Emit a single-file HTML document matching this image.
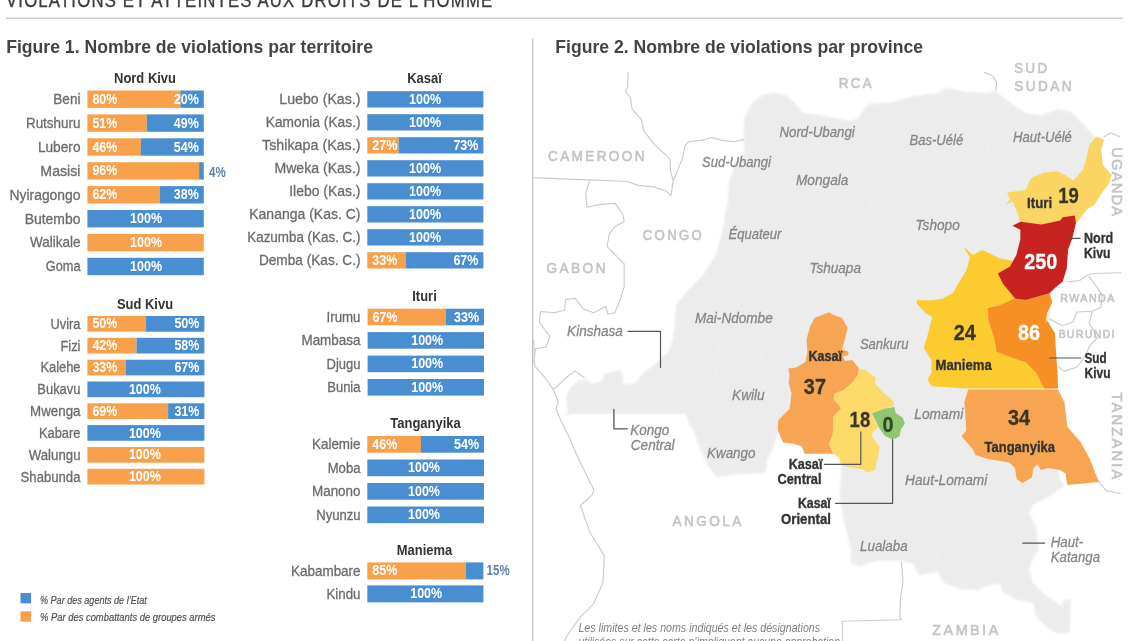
<!DOCTYPE html>
<html lang="fr"><head><meta charset="utf-8"><title>Violations et atteintes aux droits de l'homme</title>
<style>
html,body{margin:0;padding:0;background:#fff;overflow:hidden}
svg{display:block;will-change:transform;font-family:"Liberation Sans",sans-serif}
text{white-space:pre}
</style></head><body>
<svg width="1140" height="641" viewBox="0 0 1140 641">
<defs><filter id="soft" x="-2%" y="-2%" width="104%" height="104%"><feGaussianBlur stdDeviation="0.8"/></filter></defs>
<rect x="0" y="0" width="1140" height="641" fill="#fff"/>
<text transform="translate(6.0,6.8) scale(0.838,1)" font-size="20" letter-spacing="1.4" fill="#3c3c3c" stroke="#3c3c3c" stroke-width="0.35">VIOLATIONS ET ATTEINTES AUX DROITS DE L’HOMME</text>
<rect x="6" y="17.6" width="1117" height="1.1" fill="#bdbdbd"/>
<rect x="532" y="38.5" width="1.2" height="603" fill="#c0c0c0"/>
<text transform="translate(6.2,53.3) scale(1.006,1)" font-size="17.5" font-weight="700" fill="#444">Figure 1. Nombre de violations par territoire</text>
<text transform="translate(555.3,53.3) scale(1.006,1)" font-size="17.5" font-weight="700" fill="#444">Figure 2. Nombre de violations par province</text>
<text transform="translate(145.0,83.0) scale(0.865,1)" font-size="15" font-weight="700" fill="#333" text-anchor="middle">Nord Kivu</text>
<text transform="translate(80.5,104.0) scale(0.895,1)" font-size="15.2" fill="#6b6b6b" text-anchor="end" stroke="#6b6b6b" stroke-width="0.3">Beni</text>
<rect x="87.4" y="90.5" width="93.1" height="17.4" fill="#F9A04D"/>
<rect x="180.5" y="90.5" width="23.3" height="17.4" fill="#4A8ED2"/>
<text transform="translate(92.4,103.7) scale(0.857,1)" font-size="14.6" font-weight="700" fill="#fff">80%</text>
<text transform="translate(198.8,103.7) scale(0.857,1)" font-size="14.6" font-weight="700" fill="#fff" text-anchor="end">20%</text>
<text transform="translate(80.5,127.9) scale(0.886,1)" font-size="15.2" fill="#6b6b6b" text-anchor="end" stroke="#6b6b6b" stroke-width="0.3">Rutshuru</text>
<rect x="87.4" y="114.4" width="59.4" height="17.4" fill="#F9A04D"/>
<rect x="146.8" y="114.4" width="57.0" height="17.4" fill="#4A8ED2"/>
<text transform="translate(92.4,127.6) scale(0.857,1)" font-size="14.6" font-weight="700" fill="#fff">51%</text>
<text transform="translate(198.8,127.6) scale(0.857,1)" font-size="14.6" font-weight="700" fill="#fff" text-anchor="end">49%</text>
<text transform="translate(80.5,151.8) scale(0.901,1)" font-size="15.2" fill="#6b6b6b" text-anchor="end" stroke="#6b6b6b" stroke-width="0.3">Lubero</text>
<rect x="87.4" y="138.3" width="53.5" height="17.4" fill="#F9A04D"/>
<rect x="140.9" y="138.3" width="62.9" height="17.4" fill="#4A8ED2"/>
<text transform="translate(92.4,151.5) scale(0.857,1)" font-size="14.6" font-weight="700" fill="#fff">46%</text>
<text transform="translate(198.8,151.5) scale(0.857,1)" font-size="14.6" font-weight="700" fill="#fff" text-anchor="end">54%</text>
<text transform="translate(80.5,175.7) scale(0.932,1)" font-size="15.2" fill="#6b6b6b" text-anchor="end" stroke="#6b6b6b" stroke-width="0.3">Masisi</text>
<rect x="87.4" y="162.2" width="111.7" height="17.4" fill="#F9A04D"/>
<rect x="199.1" y="162.2" width="4.7" height="17.4" fill="#4A8ED2"/>
<text transform="translate(92.4,175.4) scale(0.857,1)" font-size="14.6" font-weight="700" fill="#fff">96%</text>
<text transform="translate(209.0,176.5) scale(0.788,1)" font-size="14.6" font-weight="700" fill="#5a82ab">4%</text>
<text transform="translate(80.5,199.6) scale(0.914,1)" font-size="15.2" fill="#6b6b6b" text-anchor="end" stroke="#6b6b6b" stroke-width="0.3">Nyiragongo</text>
<rect x="87.4" y="186.1" width="72.2" height="17.4" fill="#F9A04D"/>
<rect x="159.6" y="186.1" width="44.2" height="17.4" fill="#4A8ED2"/>
<text transform="translate(92.4,199.3) scale(0.857,1)" font-size="14.6" font-weight="700" fill="#fff">62%</text>
<text transform="translate(198.8,199.3) scale(0.857,1)" font-size="14.6" font-weight="700" fill="#fff" text-anchor="end">38%</text>
<text transform="translate(80.5,223.5) scale(0.919,1)" font-size="15.2" fill="#6b6b6b" text-anchor="end" stroke="#6b6b6b" stroke-width="0.3">Butembo</text>
<rect x="87.4" y="210.0" width="116.4" height="17.4" fill="#4A8ED2"/>
<text transform="translate(146.1,223.2) scale(0.857,1)" font-size="14.6" font-weight="700" fill="#fff" text-anchor="middle">100%</text>
<text transform="translate(80.5,247.4) scale(0.887,1)" font-size="15.2" fill="#6b6b6b" text-anchor="end" stroke="#6b6b6b" stroke-width="0.3">Walikale</text>
<rect x="87.4" y="233.9" width="116.4" height="17.4" fill="#F9A04D"/>
<text transform="translate(146.1,247.1) scale(0.857,1)" font-size="14.6" font-weight="700" fill="#fff" text-anchor="middle">100%</text>
<text transform="translate(80.5,271.3) scale(0.841,1)" font-size="15.2" fill="#6b6b6b" text-anchor="end" stroke="#6b6b6b" stroke-width="0.3">Goma</text>
<rect x="87.4" y="257.8" width="116.4" height="17.4" fill="#4A8ED2"/>
<text transform="translate(146.1,271.0) scale(0.857,1)" font-size="14.6" font-weight="700" fill="#fff" text-anchor="middle">100%</text>
<text transform="translate(145.0,308.6) scale(0.865,1)" font-size="15" font-weight="700" fill="#333" text-anchor="middle">Sud Kivu</text>
<text transform="translate(80.5,328.7) scale(0.846,1)" font-size="15.2" fill="#6b6b6b" text-anchor="end" stroke="#6b6b6b" stroke-width="0.3">Uvira</text>
<rect x="87.4" y="316.0" width="58.5" height="15.7" fill="#F9A04D"/>
<rect x="145.9" y="316.0" width="58.5" height="15.7" fill="#4A8ED2"/>
<text transform="translate(92.4,328.4) scale(0.857,1)" font-size="14.6" font-weight="700" fill="#fff">50%</text>
<text transform="translate(199.4,328.4) scale(0.857,1)" font-size="14.6" font-weight="700" fill="#fff" text-anchor="end">50%</text>
<text transform="translate(80.5,350.5) scale(0.851,1)" font-size="15.2" fill="#6b6b6b" text-anchor="end" stroke="#6b6b6b" stroke-width="0.3">Fizi</text>
<rect x="87.4" y="337.8" width="49.1" height="15.7" fill="#F9A04D"/>
<rect x="136.5" y="337.8" width="67.9" height="15.7" fill="#4A8ED2"/>
<text transform="translate(92.4,350.2) scale(0.857,1)" font-size="14.6" font-weight="700" fill="#fff">42%</text>
<text transform="translate(199.4,350.2) scale(0.857,1)" font-size="14.6" font-weight="700" fill="#fff" text-anchor="end">58%</text>
<text transform="translate(80.5,372.3) scale(0.848,1)" font-size="15.2" fill="#6b6b6b" text-anchor="end" stroke="#6b6b6b" stroke-width="0.3">Kalehe</text>
<rect x="87.4" y="359.7" width="38.6" height="15.7" fill="#F9A04D"/>
<rect x="126.0" y="359.7" width="78.4" height="15.7" fill="#4A8ED2"/>
<text transform="translate(92.4,372.0) scale(0.857,1)" font-size="14.6" font-weight="700" fill="#fff">33%</text>
<text transform="translate(199.4,372.0) scale(0.857,1)" font-size="14.6" font-weight="700" fill="#fff" text-anchor="end">67%</text>
<text transform="translate(80.5,394.1) scale(0.853,1)" font-size="15.2" fill="#6b6b6b" text-anchor="end" stroke="#6b6b6b" stroke-width="0.3">Bukavu</text>
<rect x="87.4" y="381.5" width="117.0" height="15.7" fill="#4A8ED2"/>
<text transform="translate(144.9,393.9) scale(0.857,1)" font-size="14.6" font-weight="700" fill="#fff" text-anchor="middle">100%</text>
<text transform="translate(80.5,416.0) scale(0.878,1)" font-size="15.2" fill="#6b6b6b" text-anchor="end" stroke="#6b6b6b" stroke-width="0.3">Mwenga</text>
<rect x="87.4" y="403.3" width="80.7" height="15.7" fill="#F9A04D"/>
<rect x="168.1" y="403.3" width="36.3" height="15.7" fill="#4A8ED2"/>
<text transform="translate(92.4,415.7) scale(0.857,1)" font-size="14.6" font-weight="700" fill="#fff">69%</text>
<text transform="translate(199.4,415.7) scale(0.857,1)" font-size="14.6" font-weight="700" fill="#fff" text-anchor="end">31%</text>
<text transform="translate(80.5,437.8) scale(0.849,1)" font-size="15.2" fill="#6b6b6b" text-anchor="end" stroke="#6b6b6b" stroke-width="0.3">Kabare</text>
<rect x="87.4" y="425.1" width="117.0" height="15.7" fill="#4A8ED2"/>
<text transform="translate(144.9,437.5) scale(0.857,1)" font-size="14.6" font-weight="700" fill="#fff" text-anchor="middle">100%</text>
<text transform="translate(80.5,459.6) scale(0.871,1)" font-size="15.2" fill="#6b6b6b" text-anchor="end" stroke="#6b6b6b" stroke-width="0.3">Walungu</text>
<rect x="87.4" y="447.0" width="117.0" height="15.7" fill="#F9A04D"/>
<text transform="translate(144.9,459.4) scale(0.857,1)" font-size="14.6" font-weight="700" fill="#fff" text-anchor="middle">100%</text>
<text transform="translate(80.5,481.5) scale(0.865,1)" font-size="15.2" fill="#6b6b6b" text-anchor="end" stroke="#6b6b6b" stroke-width="0.3">Shabunda</text>
<rect x="87.4" y="468.8" width="117.0" height="15.7" fill="#F9A04D"/>
<text transform="translate(144.9,481.2) scale(0.857,1)" font-size="14.6" font-weight="700" fill="#fff" text-anchor="middle">100%</text>
<text transform="translate(424.5,83.3) scale(0.865,1)" font-size="15" font-weight="700" fill="#333" text-anchor="middle">Kasaï</text>
<text transform="translate(360.5,104.2) scale(0.934,1)" font-size="15.2" fill="#6b6b6b" text-anchor="end" stroke="#6b6b6b" stroke-width="0.3">Luebo (Kas.)</text>
<rect x="367.3" y="91.2" width="116.1" height="16.3" fill="#4A8ED2"/>
<text transform="translate(425.1,103.9) scale(0.857,1)" font-size="14.6" font-weight="700" fill="#fff" text-anchor="middle">100%</text>
<text transform="translate(360.5,127.2) scale(0.905,1)" font-size="15.2" fill="#6b6b6b" text-anchor="end" stroke="#6b6b6b" stroke-width="0.3">Kamonia (Kas.)</text>
<rect x="367.3" y="114.2" width="116.1" height="16.3" fill="#4A8ED2"/>
<text transform="translate(425.1,126.9) scale(0.857,1)" font-size="14.6" font-weight="700" fill="#fff" text-anchor="middle">100%</text>
<text transform="translate(360.5,150.2) scale(0.94,1)" font-size="15.2" fill="#6b6b6b" text-anchor="end" stroke="#6b6b6b" stroke-width="0.3">Tshikapa (Kas.)</text>
<rect x="367.3" y="137.2" width="31.3" height="16.3" fill="#F9A04D"/>
<rect x="398.6" y="137.2" width="84.8" height="16.3" fill="#4A8ED2"/>
<text transform="translate(372.3,149.9) scale(0.857,1)" font-size="14.6" font-weight="700" fill="#fff">27%</text>
<text transform="translate(478.4,149.9) scale(0.857,1)" font-size="14.6" font-weight="700" fill="#fff" text-anchor="end">73%</text>
<text transform="translate(360.5,173.2) scale(0.927,1)" font-size="15.2" fill="#6b6b6b" text-anchor="end" stroke="#6b6b6b" stroke-width="0.3">Mweka (Kas.)</text>
<rect x="367.3" y="160.2" width="116.1" height="16.3" fill="#4A8ED2"/>
<text transform="translate(425.1,172.9) scale(0.857,1)" font-size="14.6" font-weight="700" fill="#fff" text-anchor="middle">100%</text>
<text transform="translate(360.5,196.2) scale(0.919,1)" font-size="15.2" fill="#6b6b6b" text-anchor="end" stroke="#6b6b6b" stroke-width="0.3">Ilebo (Kas.)</text>
<rect x="367.3" y="183.2" width="116.1" height="16.3" fill="#4A8ED2"/>
<text transform="translate(425.1,195.9) scale(0.857,1)" font-size="14.6" font-weight="700" fill="#fff" text-anchor="middle">100%</text>
<text transform="translate(360.5,219.2) scale(0.921,1)" font-size="15.2" fill="#6b6b6b" text-anchor="end" stroke="#6b6b6b" stroke-width="0.3">Kananga (Kas. C)</text>
<rect x="367.3" y="206.2" width="116.1" height="16.3" fill="#4A8ED2"/>
<text transform="translate(425.1,218.9) scale(0.857,1)" font-size="14.6" font-weight="700" fill="#fff" text-anchor="middle">100%</text>
<text transform="translate(360.5,242.2) scale(0.882,1)" font-size="15.2" fill="#6b6b6b" text-anchor="end" stroke="#6b6b6b" stroke-width="0.3">Kazumba (Kas. C.)</text>
<rect x="367.3" y="229.2" width="116.1" height="16.3" fill="#4A8ED2"/>
<text transform="translate(425.1,241.9) scale(0.857,1)" font-size="14.6" font-weight="700" fill="#fff" text-anchor="middle">100%</text>
<text transform="translate(360.5,265.1) scale(0.898,1)" font-size="15.2" fill="#6b6b6b" text-anchor="end" stroke="#6b6b6b" stroke-width="0.3">Demba (Kas. C.)</text>
<rect x="367.3" y="252.2" width="38.3" height="16.3" fill="#F9A04D"/>
<rect x="405.6" y="252.2" width="77.8" height="16.3" fill="#4A8ED2"/>
<text transform="translate(372.3,264.9) scale(0.857,1)" font-size="14.6" font-weight="700" fill="#fff">33%</text>
<text transform="translate(478.4,264.9) scale(0.857,1)" font-size="14.6" font-weight="700" fill="#fff" text-anchor="end">67%</text>
<text transform="translate(424.5,301.0) scale(0.865,1)" font-size="15" font-weight="700" fill="#333" text-anchor="middle">Ituri</text>
<text transform="translate(360.5,321.8) scale(0.876,1)" font-size="15.2" fill="#6b6b6b" text-anchor="end" stroke="#6b6b6b" stroke-width="0.3">Irumu</text>
<rect x="367.6" y="308.7" width="78.0" height="16.6" fill="#F9A04D"/>
<rect x="445.6" y="308.7" width="38.4" height="16.6" fill="#4A8ED2"/>
<text transform="translate(372.6,321.5) scale(0.857,1)" font-size="14.6" font-weight="700" fill="#fff">67%</text>
<text transform="translate(479.0,321.5) scale(0.857,1)" font-size="14.6" font-weight="700" fill="#fff" text-anchor="end">33%</text>
<text transform="translate(360.5,345.2) scale(0.886,1)" font-size="15.2" fill="#6b6b6b" text-anchor="end" stroke="#6b6b6b" stroke-width="0.3">Mambasa</text>
<rect x="367.6" y="332.1" width="116.4" height="16.6" fill="#4A8ED2"/>
<text transform="translate(427.2,345.0) scale(0.857,1)" font-size="14.6" font-weight="700" fill="#fff" text-anchor="middle">100%</text>
<text transform="translate(360.5,368.7) scale(0.857,1)" font-size="15.2" fill="#6b6b6b" text-anchor="end" stroke="#6b6b6b" stroke-width="0.3">Djugu</text>
<rect x="367.6" y="355.6" width="116.4" height="16.6" fill="#4A8ED2"/>
<text transform="translate(427.2,368.4) scale(0.857,1)" font-size="14.6" font-weight="700" fill="#fff" text-anchor="middle">100%</text>
<text transform="translate(360.5,392.1) scale(0.857,1)" font-size="15.2" fill="#6b6b6b" text-anchor="end" stroke="#6b6b6b" stroke-width="0.3">Bunia</text>
<rect x="367.6" y="379.0" width="116.4" height="16.6" fill="#4A8ED2"/>
<text transform="translate(427.2,391.9) scale(0.857,1)" font-size="14.6" font-weight="700" fill="#fff" text-anchor="middle">100%</text>
<text transform="translate(425.5,427.5) scale(0.865,1)" font-size="15" font-weight="700" fill="#333" text-anchor="middle">Tanganyika</text>
<text transform="translate(360.5,449.2) scale(0.884,1)" font-size="15.2" fill="#6b6b6b" text-anchor="end" stroke="#6b6b6b" stroke-width="0.3">Kalemie</text>
<rect x="367.3" y="436.0" width="53.7" height="16.7" fill="#F9A04D"/>
<rect x="421.0" y="436.0" width="63.0" height="16.7" fill="#4A8ED2"/>
<text transform="translate(372.3,448.9) scale(0.857,1)" font-size="14.6" font-weight="700" fill="#fff">46%</text>
<text transform="translate(479.0,448.9) scale(0.857,1)" font-size="14.6" font-weight="700" fill="#fff" text-anchor="end">54%</text>
<text transform="translate(360.5,472.7) scale(0.863,1)" font-size="15.2" fill="#6b6b6b" text-anchor="end" stroke="#6b6b6b" stroke-width="0.3">Moba</text>
<rect x="367.3" y="459.5" width="116.7" height="16.7" fill="#4A8ED2"/>
<text transform="translate(424.0,472.4) scale(0.857,1)" font-size="14.6" font-weight="700" fill="#fff" text-anchor="middle">100%</text>
<text transform="translate(360.5,496.2) scale(0.884,1)" font-size="15.2" fill="#6b6b6b" text-anchor="end" stroke="#6b6b6b" stroke-width="0.3">Manono</text>
<rect x="367.3" y="483.0" width="116.7" height="16.7" fill="#4A8ED2"/>
<text transform="translate(424.0,495.9) scale(0.857,1)" font-size="14.6" font-weight="700" fill="#fff" text-anchor="middle">100%</text>
<text transform="translate(360.5,519.6) scale(0.86,1)" font-size="15.2" fill="#6b6b6b" text-anchor="end" stroke="#6b6b6b" stroke-width="0.3">Nyunzu</text>
<rect x="367.3" y="506.5" width="116.7" height="16.7" fill="#4A8ED2"/>
<text transform="translate(424.0,519.4) scale(0.857,1)" font-size="14.6" font-weight="700" fill="#fff" text-anchor="middle">100%</text>
<text transform="translate(424.5,555.0) scale(0.865,1)" font-size="15" font-weight="700" fill="#333" text-anchor="middle">Maniema</text>
<text transform="translate(360.5,575.7) scale(0.884,1)" font-size="15.2" fill="#6b6b6b" text-anchor="end" stroke="#6b6b6b" stroke-width="0.3">Kabambare</text>
<rect x="367.3" y="562.4" width="98.7" height="17.0" fill="#F9A04D"/>
<rect x="466.0" y="562.4" width="17.4" height="17.0" fill="#4A8ED2"/>
<text transform="translate(372.3,575.4) scale(0.857,1)" font-size="14.6" font-weight="700" fill="#fff">85%</text>
<text transform="translate(486.6,575.0) scale(0.788,1)" font-size="14.6" font-weight="700" fill="#5a82ab">15%</text>
<text transform="translate(360.5,598.7) scale(0.875,1)" font-size="15.2" fill="#6b6b6b" text-anchor="end" stroke="#6b6b6b" stroke-width="0.3">Kindu</text>
<rect x="367.3" y="585.4" width="116.1" height="17.0" fill="#4A8ED2"/>
<text transform="translate(426.2,598.4) scale(0.857,1)" font-size="14.6" font-weight="700" fill="#fff" text-anchor="middle">100%</text>
<rect x="20.5" y="593" width="10.6" height="10.4" fill="#4A8ED2"/>
<rect x="20.5" y="611.3" width="10.6" height="10.4" fill="#F9A04D"/>
<text transform="translate(40.0,604.3) scale(0.789,1)" font-size="11.5" font-style="italic" fill="#505050" stroke="#505050" stroke-width="0.2">% Par des agents de l’Etat</text>
<text transform="translate(40.0,620.8) scale(0.817,1)" font-size="11.5" font-style="italic" fill="#505050" stroke="#505050" stroke-width="0.2">% Par des combattants de groupes armés</text>
<polygon points="743.5,139.6 744.3,117.0 752.8,102.4 763.4,94.5 774.0,92.4 787.3,95.8 797.9,106.4 803.2,113.0 818.0,114.8 834.0,117.8 852.4,120.9 858.6,116.9 866.6,105.6 869.2,103.7 893.0,102.3 914.3,95.7 938.0,93.0 946.0,87.7 964.7,91.7 988.5,93.0 995.0,90.4 1009.8,102.3 1025.7,112.9 1041.6,115.6 1057.5,109.0 1070.8,111.6 1084.0,124.9 1094.6,136.8 1102.6,138.1 1100.0,150.0 1070.0,220.0 1050.0,300.0 1050.0,390.0 1060.0,480.0 1064.2,485.0 1058.6,490.6 1044.6,499.0 1033.3,504.7 1029.1,513.1 1036.1,527.0 1039.0,549.6 1033.3,558.0 1029.1,569.2 1033.3,583.3 1044.6,594.5 1061.4,605.7 1064.2,600.0 1071.2,598.7 1069.8,632.4 1058.6,633.8 1047.4,628.2 1036.1,617.0 1033.3,603.0 1016.5,600.0 1002.5,591.7 999.6,583.3 988.4,586.0 977.2,590.3 960.4,588.9 943.5,583.3 937.9,572.0 918.2,574.9 912.6,563.6 901.4,560.8 876.1,560.8 859.3,566.4 850.9,563.6 850.9,549.6 845.3,527.0 839.6,499.0 841.0,471.0 841.1,464.9 835.0,450.0 800.0,440.0 778.0,433.0 774.0,446.3 767.4,459.6 766.0,472.8 739.5,474.2 715.7,476.8 707.7,464.9 699.8,449.0 694.5,433.0 689.2,424.3 685.4,414.0 576.8,414.0 563.7,414.9 567.5,411.2 566.5,396.2 569.3,388.7 578.7,380.3 586.2,379.3 591.8,384.0 601.2,381.2 604.9,373.7 612.4,371.8 621.8,370.0 623.6,385.0 634.9,383.1 642.4,373.7 649.9,368.1 659.2,360.6 668.6,351.2 672.3,340.0 674.6,326.0 675.9,304.9 686.5,291.6 702.4,275.7 715.7,254.5 721.0,236.0 725.0,220.0 723.6,219.2 727.6,203.2 728.9,182.0 734.2,166.1 744.3,152.8" fill="#ECECEC" filter="url(#soft)"/>
<polyline points="744.0,152.0 770.0,150.0 800.0,160.0 830.0,150.0 858.0,121.0" fill="none" stroke="#f8f8f8" stroke-width="1.0" stroke-linejoin="round" stroke-linecap="round" stroke-dasharray="2 1.5" opacity="0.38"/>
<polyline points="800.0,160.0 795.0,190.0 810.0,215.0 850.0,210.0 872.0,192.0 888.5,178.0" fill="none" stroke="#f8f8f8" stroke-width="1.0" stroke-linejoin="round" stroke-linecap="round" stroke-dasharray="2 1.5" opacity="0.38"/>
<polyline points="864.7,106.5 866.0,130.0 870.0,154.0 878.0,170.0 888.5,178.0 940.0,181.0 989.0,180.0" fill="none" stroke="#f8f8f8" stroke-width="1.0" stroke-linejoin="round" stroke-linecap="round" stroke-dasharray="2 1.5" opacity="0.38"/>
<polyline points="872.0,192.0 870.0,218.0 885.0,240.0 920.0,252.0 963.0,247.0" fill="none" stroke="#f8f8f8" stroke-width="1.0" stroke-linejoin="round" stroke-linecap="round" stroke-dasharray="2 1.5" opacity="0.38"/>
<polyline points="995.0,91.0 990.0,130.0 985.0,170.0 1007.0,192.0" fill="none" stroke="#f8f8f8" stroke-width="1.0" stroke-linejoin="round" stroke-linecap="round" stroke-dasharray="2 1.5" opacity="0.38"/>
<polyline points="725.0,225.0 760.0,215.0 795.0,190.0" fill="none" stroke="#f8f8f8" stroke-width="1.0" stroke-linejoin="round" stroke-linecap="round" stroke-dasharray="2 1.5" opacity="0.38"/>
<polyline points="810.0,215.0 800.0,250.0 790.0,290.0 760.0,300.0 700.0,280.0" fill="none" stroke="#f8f8f8" stroke-width="1.0" stroke-linejoin="round" stroke-linecap="round" stroke-dasharray="2 1.5" opacity="0.38"/>
<polyline points="790.0,290.0 830.0,300.0 860.0,300.0 917.0,301.0" fill="none" stroke="#f8f8f8" stroke-width="1.0" stroke-linejoin="round" stroke-linecap="round" stroke-dasharray="2 1.5" opacity="0.38"/>
<polyline points="676.0,327.0 720.0,340.0 760.0,345.0 806.0,340.0" fill="none" stroke="#f8f8f8" stroke-width="1.0" stroke-linejoin="round" stroke-linecap="round" stroke-dasharray="2 1.5" opacity="0.38"/>
<polyline points="720.0,340.0 715.0,380.0 725.0,420.0 700.0,450.0" fill="none" stroke="#f8f8f8" stroke-width="1.0" stroke-linejoin="round" stroke-linecap="round" stroke-dasharray="2 1.5" opacity="0.38"/>
<polyline points="760.0,345.0 765.0,390.0 780.0,420.0" fill="none" stroke="#f8f8f8" stroke-width="1.0" stroke-linejoin="round" stroke-linecap="round" stroke-dasharray="2 1.5" opacity="0.38"/>
<polyline points="848.0,330.0 880.0,320.0 917.0,301.0" fill="none" stroke="#f8f8f8" stroke-width="1.0" stroke-linejoin="round" stroke-linecap="round" stroke-dasharray="2 1.5" opacity="0.38"/>
<polyline points="905.0,425.0 930.0,400.0 931.0,386.0" fill="none" stroke="#f8f8f8" stroke-width="1.0" stroke-linejoin="round" stroke-linecap="round" stroke-dasharray="2 1.5" opacity="0.38"/>
<polyline points="900.0,440.0 930.0,450.0 967.0,442.0" fill="none" stroke="#f8f8f8" stroke-width="1.0" stroke-linejoin="round" stroke-linecap="round" stroke-dasharray="2 1.5" opacity="0.38"/>
<polyline points="893.0,470.0 930.0,500.0 970.0,510.0 1029.0,513.0" fill="none" stroke="#f8f8f8" stroke-width="1.0" stroke-linejoin="round" stroke-linecap="round" stroke-dasharray="2 1.5" opacity="0.38"/>
<polyline points="930.0,500.0 935.0,540.0 940.0,583.0" fill="none" stroke="#f8f8f8" stroke-width="1.0" stroke-linejoin="round" stroke-linecap="round" stroke-dasharray="2 1.5" opacity="0.38"/>
<polyline points="841.0,500.0 880.0,510.0 930.0,500.0" fill="none" stroke="#f8f8f8" stroke-width="1.0" stroke-linejoin="round" stroke-linecap="round" stroke-dasharray="2 1.5" opacity="0.38"/>
<polyline points="628.1,72.7 627.6,86.5 625.5,91.8 630.3,97.1 632.1,109.1 641.4,119.7 643.5,130.3 654.7,144.9 666.6,155.5 670.0,159.5 670.6,171.4 673.2,180.7" fill="none" stroke="#cccccc" stroke-width="1.15" stroke-linejoin="round" stroke-linecap="round"/>
<polyline points="673.2,180.7 677.2,171.4 682.5,158.1 685.2,144.9 689.2,141.7 702.4,140.1 711.7,137.5 721.0,140.1 734.2,141.7 743.5,139.6" fill="none" stroke="#cccccc" stroke-width="1.15" stroke-linejoin="round" stroke-linecap="round"/>
<polyline points="533.0,177.6 561.8,178.9 590.2,179.9 627.3,181.5 638.3,185.4 653.5,186.9 666.6,191.3 671.0,195.7 673.2,180.7" fill="none" stroke="#cccccc" stroke-width="1.15" stroke-linejoin="round" stroke-linecap="round"/>
<polyline points="589.7,180.7 585.7,192.6 587.0,207.2 599.0,204.6 614.9,203.2 622.8,213.8 624.2,221.8 614.9,226.6 609.6,233.3 607.0,246.5 617.5,257.1 624.2,263.8 624.2,286.3 620.2,299.6 614.9,312.8 608.2,314.2 605.6,306.2 593.7,312.8 583.0,308.9 575.1,298.2 565.8,299.6 564.5,310.2 553.9,312.8 540.6,311.5 539.3,322.1 549.9,336.7 545.9,347.3 535.3,348.6 534.0,363.2" fill="none" stroke="#cccccc" stroke-width="1.15" stroke-linejoin="round" stroke-linecap="round"/>
<polyline points="533.7,340.0 534.7,366.2 545.0,377.5 553.4,389.6 558.1,401.8 556.0,409.0 560.0,418.7 569.3,437.4 577.7,456.9 584.4,471.0 593.7,489.6 592.3,494.9 580.4,505.5 589.7,532.0 604.3,555.9 603.0,582.4 593.7,603.6 580.4,616.9 567.1,635.5 564.5,641.0" fill="none" stroke="#cccccc" stroke-width="1.15" stroke-linejoin="round" stroke-linecap="round"/>
<polyline points="553.4,389.6 567.0,377.0 574.9,370.9 584.3,377.5" fill="none" stroke="#cccccc" stroke-width="1.15" stroke-linejoin="round" stroke-linecap="round"/>
<polyline points="984.6,72.4 992.5,75.8 996.5,82.4 996.0,90.4" fill="none" stroke="#cccccc" stroke-width="1.15" stroke-linejoin="round" stroke-linecap="round"/>
<polyline points="1104.0,136.8 1110.6,132.8 1119.8,136.8" fill="none" stroke="#cccccc" stroke-width="1.15" stroke-linejoin="round" stroke-linecap="round"/>
<polyline points="1066.2,281.8 1079.3,280.7 1086.9,275.3 1093.5,273.5 1120.8,272.7" fill="none" stroke="#cccccc" stroke-width="1.15" stroke-linejoin="round" stroke-linecap="round"/>
<polyline points="1089.1,276.4 1094.6,284.0 1102.2,294.9 1101.1,306.9 1092.4,311.3 1077.1,312.0 1072.8,322.2 1061.8,325.5 1049.8,319.0" fill="none" stroke="#cccccc" stroke-width="1.15" stroke-linejoin="round" stroke-linecap="round"/>
<polyline points="1092.4,311.3 1089.1,323.3 1094.6,332.1 1096.8,338.6 1090.2,345.2 1083.7,358.3 1077.1,367.0 1064.0,371.4 1058.6,367.0" fill="none" stroke="#cccccc" stroke-width="1.15" stroke-linejoin="round" stroke-linecap="round"/>
<polyline points="1096.5,479.4 1106.3,490.6 1120.4,493.5" fill="none" stroke="#cccccc" stroke-width="1.15" stroke-linejoin="round" stroke-linecap="round"/>
<polyline points="901.4,562.2 903.0,580.0 900.5,598.0 900.0,617.0 901.4,619.8 842.5,621.2 842.5,641.0" fill="none" stroke="#cccccc" stroke-width="1.15" stroke-linejoin="round" stroke-linecap="round"/>
<polygon points="1096.0,136.8 1104.0,139.5 1101.3,148.8 1102.6,164.7 1111.9,175.3 1109.2,183.2 1101.3,193.8 1094.6,204.5 1086.7,209.8 1078.7,220.4 1076.0,223.0 1060.2,221.4 1041.6,225.0 1020.4,222.5 1016.4,209.8 1012.4,201.8 1005.8,204.5 1009.8,199.2 1007.1,192.5 1025.7,189.9 1031.0,177.9 1044.2,172.6 1057.5,171.3 1065.5,175.3 1073.4,180.6 1082.7,170.0 1086.7,156.7 1089.3,144.8" fill="#FAD563"/>
<polygon points="963.3,246.5 972.5,255.0 982.5,250.0 1000.0,258.5 1012.5,260.8 1012.0,268.0 998.0,273.4 1003.1,284.0 1009.8,292.0 1016.0,298.8 999.2,305.3 986.5,307.7 988.5,321.2 993.8,333.0 996.3,350.0 1011.0,357.3 1026.0,363.0 1036.3,373.0 1044.5,388.4 967.3,388.4 931.4,386.3 927.5,379.3 931.4,373.6 931.4,360.0 923.7,348.0 927.5,335.5 932.2,317.0 925.0,312.5 916.3,303.0 917.3,300.0 930.2,300.6 942.5,298.8 953.0,293.0 958.5,283.0 966.5,270.3 970.0,257.5" fill="#FCCB30"/>
<polygon points="987.2,307.9 999.2,305.3 1015.0,298.6 1025.7,300.0 1049.5,293.3 1052.2,302.6 1046.9,313.2 1045.6,323.9 1046.9,320.0 1054.9,333.3 1056.2,354.5 1057.5,373.0 1058.0,388.4 1044.2,388.4 1036.3,373.0 1025.7,362.4 1009.8,357.1 996.5,351.8 993.8,335.9 988.5,321.2" fill="#F69024"/>
<polygon points="1012.4,225.7 1020.4,221.7 1041.6,224.4 1060.2,220.4 1062.8,217.2 1074.7,215.6 1076.0,223.0 1072.1,239.0 1068.1,249.6 1066.8,268.1 1062.8,281.4 1054.9,288.0 1049.5,293.3 1025.7,300.0 1015.0,298.6 1009.8,292.0 1003.1,284.0 997.8,273.4 1009.8,266.8 1016.4,254.9 1020.4,239.0 1020.4,229.7" fill="#C6221F"/>
<polygon points="968.1,389.5 1058.0,389.5 1064.5,402.5 1067.3,426.8 1080.4,441.8 1089.8,458.7 1095.4,473.6 1099.2,482.1 1067.3,484.9 1065.5,473.6 1059.9,469.9 1048.6,468.0 1041.1,469.9 1037.4,464.3 1033.6,468.0 1031.8,477.4 1022.4,483.0 1016.8,479.3 1014.9,468.0 1009.3,462.4 986.8,458.7 975.6,454.9 972.8,449.3 961.5,436.2 966.2,430.6 965.0,410.0 964.3,402.5" fill="#F8A553"/>
<polygon points="829.0,312.2 833.6,315.0 842.0,317.8 847.7,328.1 844.9,339.3 842.0,349.6 848.6,351.5 848.2,355.2 843.0,356.2 844.9,360.9 852.4,359.9 858.9,368.4 858.0,374.9 852.4,382.4 843.9,389.9 834.6,393.6 833.6,399.3 839.3,404.9 841.1,408.7 833.6,416.2 832.7,434.9 829.0,444.3 833.6,453.7 804.6,453.7 801.8,446.2 792.4,443.4 783.0,442.4 777.5,429.3 778.4,420.0 789.6,408.7 791.5,393.6 788.7,382.4 789.6,374.9 788.3,368.4 796.2,367.4 805.5,361.8 807.4,352.4 806.5,339.3 810.2,326.2 814.9,317.8" fill="#F7A555"/>
<polygon points="858.9,368.4 865.5,370.2 875.8,377.7 874.8,383.3 884.2,393.6 893.6,401.1 893.6,405.9 884.2,408.7 872.0,413.4 873.0,418.1 878.6,426.5 874.8,430.3 871.1,434.9 874.8,440.6 879.5,446.2 877.6,459.3 874.8,470.5 865.5,472.4 864.5,469.6 852.4,467.7 841.1,464.9 839.3,457.4 833.6,453.7 829.0,444.3 832.7,434.9 833.6,416.2 841.1,408.7 839.3,404.9 833.6,399.3 834.6,393.6 843.9,389.9 852.4,382.4 858.0,374.9" fill="#FCDA6A"/>
<polygon points="872.0,413.4 884.2,408.7 894.5,406.9 895.4,412.5 902.9,418.1 904.8,423.7 901.0,429.3 899.2,436.8 892.6,439.6 885.1,435.9 879.5,428.4 875.8,420.9" fill="#8FC66F"/>
<polyline points="628.1,331.4 660.5,331.4 660.5,367.5" fill="none" stroke="#555" stroke-width="1.2" stroke-linejoin="round" stroke-linecap="round"/>
<polyline points="613.9,409.5 613.9,428.8 627.4,428.8" fill="none" stroke="#555" stroke-width="1.3" stroke-linejoin="round" stroke-linecap="round"/>
<polyline points="1070.8,238.4 1080.0,238.4" fill="none" stroke="#555" stroke-width="1.2" stroke-linejoin="round" stroke-linecap="round"/>
<polyline points="1049.5,358.0 1080.8,358.0" fill="none" stroke="#555" stroke-width="1.2" stroke-linejoin="round" stroke-linecap="round"/>
<polyline points="860.8,432.1 860.8,464.3 824.3,464.3" fill="none" stroke="#555" stroke-width="1.2" stroke-linejoin="round" stroke-linecap="round"/>
<polyline points="892.6,439.6 892.6,503.3 835.5,503.3" fill="none" stroke="#555" stroke-width="1.2" stroke-linejoin="round" stroke-linecap="round"/>
<polyline points="1022.7,543.1 1044.6,543.1" fill="none" stroke="#555" stroke-width="1.3" stroke-linejoin="round" stroke-linecap="round"/><text transform="translate(702.0,167.0) scale(0.843,1)" font-size="15.5" font-style="italic" fill="#868686" stroke="#868686" stroke-width="0.3">Sud-Ubangi</text>
<text transform="translate(779.4,137.4) scale(0.858,1)" font-size="15.5" font-style="italic" fill="#868686" stroke="#868686" stroke-width="0.3">Nord-Ubangi</text>
<text transform="translate(796.0,185.0) scale(0.881,1)" font-size="15.5" font-style="italic" fill="#868686" stroke="#868686" stroke-width="0.3">Mongala</text>
<text transform="translate(909.5,144.5) scale(0.844,1)" font-size="15.5" font-style="italic" fill="#868686" stroke="#868686" stroke-width="0.3">Bas-Uélé</text>
<text transform="translate(1013.0,142.3) scale(0.845,1)" font-size="15.5" font-style="italic" fill="#868686" stroke="#868686" stroke-width="0.3">Haut-Uélé</text>
<text transform="translate(728.5,239.4) scale(0.842,1)" font-size="15.5" font-style="italic" fill="#868686" stroke="#868686" stroke-width="0.3">Équateur</text>
<text transform="translate(915.5,230.0) scale(0.881,1)" font-size="15.5" font-style="italic" fill="#868686" stroke="#868686" stroke-width="0.3">Tshopo</text>
<text transform="translate(809.4,272.5) scale(0.876,1)" font-size="15.5" font-style="italic" fill="#868686" stroke="#868686" stroke-width="0.3">Tshuapa</text>
<text transform="translate(695.0,322.6) scale(0.876,1)" font-size="15.5" font-style="italic" fill="#868686" stroke="#868686" stroke-width="0.3">Mai-Ndombe</text>
<text transform="translate(567.1,335.9) scale(0.874,1)" font-size="15.5" font-style="italic" fill="#868686" stroke="#868686" stroke-width="0.3">Kinshasa</text>
<text transform="translate(859.9,349.0) scale(0.842,1)" font-size="15.5" font-style="italic" fill="#868686" stroke="#868686" stroke-width="0.3">Sankuru</text>
<text transform="translate(732.1,400.4) scale(0.880,1)" font-size="15.5" font-style="italic" fill="#868686" stroke="#868686" stroke-width="0.3">Kwilu</text>
<text transform="translate(707.0,458.0) scale(0.866,1)" font-size="15.5" font-style="italic" fill="#868686" stroke="#868686" stroke-width="0.3">Kwango</text>
<text transform="translate(630.3,435.4) scale(0.870,1)" font-size="15.5" font-style="italic" fill="#868686" stroke="#868686" stroke-width="0.3">Kongo</text>
<text transform="translate(630.8,450.0) scale(0.877,1)" font-size="15.5" font-style="italic" fill="#868686" stroke="#868686" stroke-width="0.3">Central</text>
<text transform="translate(914.3,419.2) scale(0.889,1)" font-size="15.5" font-style="italic" fill="#868686" stroke="#868686" stroke-width="0.3">Lomami</text>
<text transform="translate(905.0,485.3) scale(0.885,1)" font-size="15.5" font-style="italic" fill="#868686" stroke="#868686" stroke-width="0.3">Haut-Lomami</text>
<text transform="translate(860.1,551.2) scale(0.861,1)" font-size="15.5" font-style="italic" fill="#868686" stroke="#868686" stroke-width="0.3">Lualaba</text>
<text transform="translate(1050.7,547.0) scale(0.860,1)" font-size="15.5" font-style="italic" fill="#868686" stroke="#868686" stroke-width="0.3">Haut-</text>
<text transform="translate(1050.7,561.6) scale(0.854,1)" font-size="15.5" font-style="italic" fill="#868686" stroke="#868686" stroke-width="0.3">Katanga</text>
<text transform="translate(548.0,161.0) scale(0.966,1)" font-size="14" letter-spacing="2.5" fill="#c4c4c4" stroke="#c4c4c4" stroke-width="0.6">CAMEROON</text>
<text transform="translate(642.7,239.6) scale(0.941,1)" font-size="14" letter-spacing="2.5" fill="#c4c4c4" stroke="#c4c4c4" stroke-width="0.6">CONGO</text>
<text transform="translate(546.4,273.3) scale(0.977,1)" font-size="14" letter-spacing="2.5" fill="#c4c4c4" stroke="#c4c4c4" stroke-width="0.6">GABON</text>
<text transform="translate(672.4,525.6) scale(0.974,1)" font-size="14" letter-spacing="2.5" fill="#c4c4c4" stroke="#c4c4c4" stroke-width="0.6">ANGOLA</text>
<text transform="translate(932.3,634.6) scale(1.020,1)" font-size="14" letter-spacing="2.5" fill="#c4c4c4" stroke="#c4c4c4" stroke-width="0.6">ZAMBIA</text>
<text transform="translate(838.8,88.0) scale(0.952,1)" font-size="14" letter-spacing="2.5" fill="#c4c4c4" stroke="#c4c4c4" stroke-width="0.6">RCA</text>
<text transform="translate(1014.3,72.9) scale(0.946,1)" font-size="14" letter-spacing="2.5" fill="#c4c4c4" stroke="#c4c4c4" stroke-width="0.6">SUD</text>
<text transform="translate(1014.3,91.4) scale(0.971,1)" font-size="14" letter-spacing="2.5" fill="#c4c4c4" stroke="#c4c4c4" stroke-width="0.6">SUDAN</text>
<text transform="translate(1060.2,302.4) scale(1.013,1)" font-size="10.5" letter-spacing="1.5" fill="#c4c4c4" stroke="#c4c4c4" stroke-width="0.6">RWANDA</text>
<text transform="translate(1058.8,337.5) scale(0.980,1)" font-size="10.5" letter-spacing="1.5" fill="#c4c4c4" stroke="#c4c4c4" stroke-width="0.6">BURUNDI</text>
<text transform="translate(1027.0,208.4) scale(0.878,1)" font-size="15.2" font-weight="700" fill="#333" stroke="#333" stroke-width="0.35">Ituri</text>
<text transform="translate(1084.0,242.8) scale(0.824,1)" font-size="15.2" font-weight="700" fill="#333" stroke="#333" stroke-width="0.35">Nord</text>
<text transform="translate(1084.0,258.2) scale(0.805,1)" font-size="15.2" font-weight="700" fill="#333" stroke="#333" stroke-width="0.35">Kivu</text>
<text transform="translate(1084.5,362.8) scale(0.770,1)" font-size="15.2" font-weight="700" fill="#333" stroke="#333" stroke-width="0.35">Sud</text>
<text transform="translate(1084.5,378.1) scale(0.790,1)" font-size="15.2" font-weight="700" fill="#333" stroke="#333" stroke-width="0.35">Kivu</text>
<text transform="translate(935.5,370.2) scale(0.865,1)" font-size="15.2" font-weight="700" fill="#333" stroke="#333" stroke-width="0.35">Maniema</text>
<text transform="translate(984.6,452.2) scale(0.853,1)" font-size="15.2" font-weight="700" fill="#333" stroke="#333" stroke-width="0.35">Tanganyika</text>
<text transform="translate(808.4,361.0) scale(0.829,1)" font-size="15.2" font-weight="700" fill="#333" stroke="#333" stroke-width="0.35">Kasaï</text>
<text transform="translate(788.7,468.8) scale(0.831,1)" font-size="15.2" font-weight="700" fill="#333" stroke="#333" stroke-width="0.35">Kasaï</text>
<text transform="translate(777.5,483.6) scale(0.841,1)" font-size="15.2" font-weight="700" fill="#333" stroke="#333" stroke-width="0.35">Central</text>
<text transform="translate(798.0,507.8) scale(0.809,1)" font-size="15.2" font-weight="700" fill="#333" stroke="#333" stroke-width="0.35">Kasaï</text>
<text transform="translate(781.0,523.7) scale(0.871,1)" font-size="15.2" font-weight="700" fill="#333" stroke="#333" stroke-width="0.35">Oriental</text>
<text transform="translate(1068.6,202.6) scale(0.83,1)" text-anchor="middle" font-size="22.3" font-weight="700" fill="#3a3626" stroke="#3a3626" stroke-width="0.3">19</text>
<text transform="translate(1040.8,268.9) scale(0.89,1)" text-anchor="middle" font-size="22.3" font-weight="700" fill="#fff" stroke="#fff" stroke-width="0.3">250</text>
<text transform="translate(1029.0,339.9) scale(0.89,1)" text-anchor="middle" font-size="22.3" font-weight="700" fill="#fff" stroke="#fff" stroke-width="0.3">86</text>
<text transform="translate(964.7,339.9) scale(0.89,1)" text-anchor="middle" font-size="22.3" font-weight="700" fill="#3a3626" stroke="#3a3626" stroke-width="0.3">24</text>
<text transform="translate(1019.0,425.4) scale(0.89,1)" text-anchor="middle" font-size="22.3" font-weight="700" fill="#3a3626" stroke="#3a3626" stroke-width="0.3">34</text>
<text transform="translate(814.9,393.5) scale(0.89,1)" text-anchor="middle" font-size="22.3" font-weight="700" fill="#3a3626" stroke="#3a3626" stroke-width="0.3">37</text>
<text transform="translate(859.9,427.4) scale(0.83,1)" text-anchor="middle" font-size="22.3" font-weight="700" fill="#3a3626" stroke="#3a3626" stroke-width="0.3">18</text>
<text transform="translate(888.0,432.0) scale(0.89,1)" text-anchor="middle" font-size="22.3" font-weight="700" fill="#2f4a2a" stroke="#2f4a2a" stroke-width="0.3">0</text>
<text transform="translate(578.4,631.6) scale(0.834,1)" font-size="12.8" font-style="italic" fill="#808080">Les limites et les noms indiqués et les désignations</text>
<text transform="translate(578.4,645.6) scale(0.820,1)" font-size="12.8" font-style="italic" fill="#808080">utilisées sur cette carte n’impliquent aucune approbation</text>
<text transform="translate(1111.9,147.2) rotate(90)" font-size="14.8" letter-spacing="2.3" fill="#c4c4c4" stroke="#c4c4c4" stroke-width="0.6" textLength="71.3" lengthAdjust="spacing">UGANDA</text>
<text transform="translate(1111.5,392.4) rotate(90)" font-size="14.8" letter-spacing="2.3" fill="#c4c4c4" stroke="#c4c4c4" stroke-width="0.6" textLength="89.2" lengthAdjust="spacing">TANZANIA</text>
</svg>
</body></html>
